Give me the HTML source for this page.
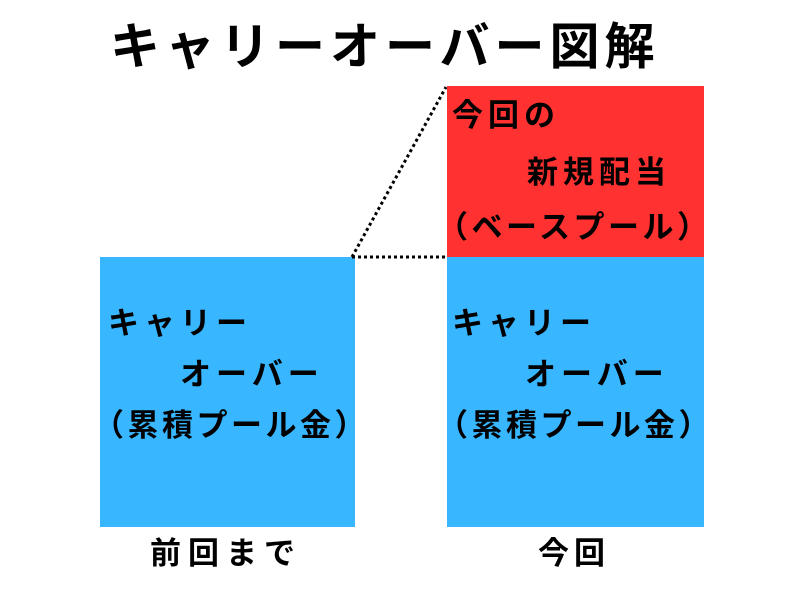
<!DOCTYPE html>
<html><head><meta charset="utf-8"><style>
body{margin:0;width:800px;height:600px;background:#fff;position:relative;overflow:hidden;font-family:"Liberation Sans","Noto Sans CJK JP",sans-serif;color:#000;font-weight:bold}
.a{position:absolute;white-space:nowrap;line-height:1}
.box{position:absolute}
.t{font-size:31px;letter-spacing:5px}
</style></head><body>
<div class="a" style="left:110px;top:22px;font-size:50px;letter-spacing:5px">キャリーオーバー図解</div>
<div class="box" style="left:100px;top:257px;width:255px;height:270px;background:#38b6ff"></div>
<div class="box" style="left:447px;top:257px;width:257px;height:270px;background:#38b6ff"></div>
<div class="box" style="left:447px;top:86px;width:257px;height:171px;background:#ff3131"></div>
<svg class="box" style="left:0;top:0" width="800" height="600">
<line x1="352" y1="257" x2="447" y2="257" stroke="#000" stroke-width="3" stroke-dasharray="3,3"/>
<line x1="352" y1="257" x2="446" y2="87" stroke="#000" stroke-width="3" stroke-dasharray="3,3"/>
</svg>
<div class="a t" style="left:108px;top:308px">キャリー</div>
<div class="a t" style="left:180px;top:359px">オーバー</div>
<div class="a t" style="left:93px;top:410px;letter-spacing:3.5px">（累積プール金）</div>
<div class="a t" style="left:452px;top:308px">キャリー</div>
<div class="a t" style="left:525px;top:359px">オーバー</div>
<div class="a t" style="left:437px;top:410px;letter-spacing:3.5px">（累積プール金）</div>
<div class="a t" style="left:452px;top:100px">今回の</div>
<div class="a t" style="left:527px;top:157px">新規配当</div>
<div class="a t" style="left:437px;top:212px;letter-spacing:3.5px">（ベースプール）</div>
<div class="a t" style="left:150px;top:538px;letter-spacing:7px">前回まで</div>
<div class="a t" style="left:538px;top:538px;letter-spacing:5px">今回</div>
</body></html>
